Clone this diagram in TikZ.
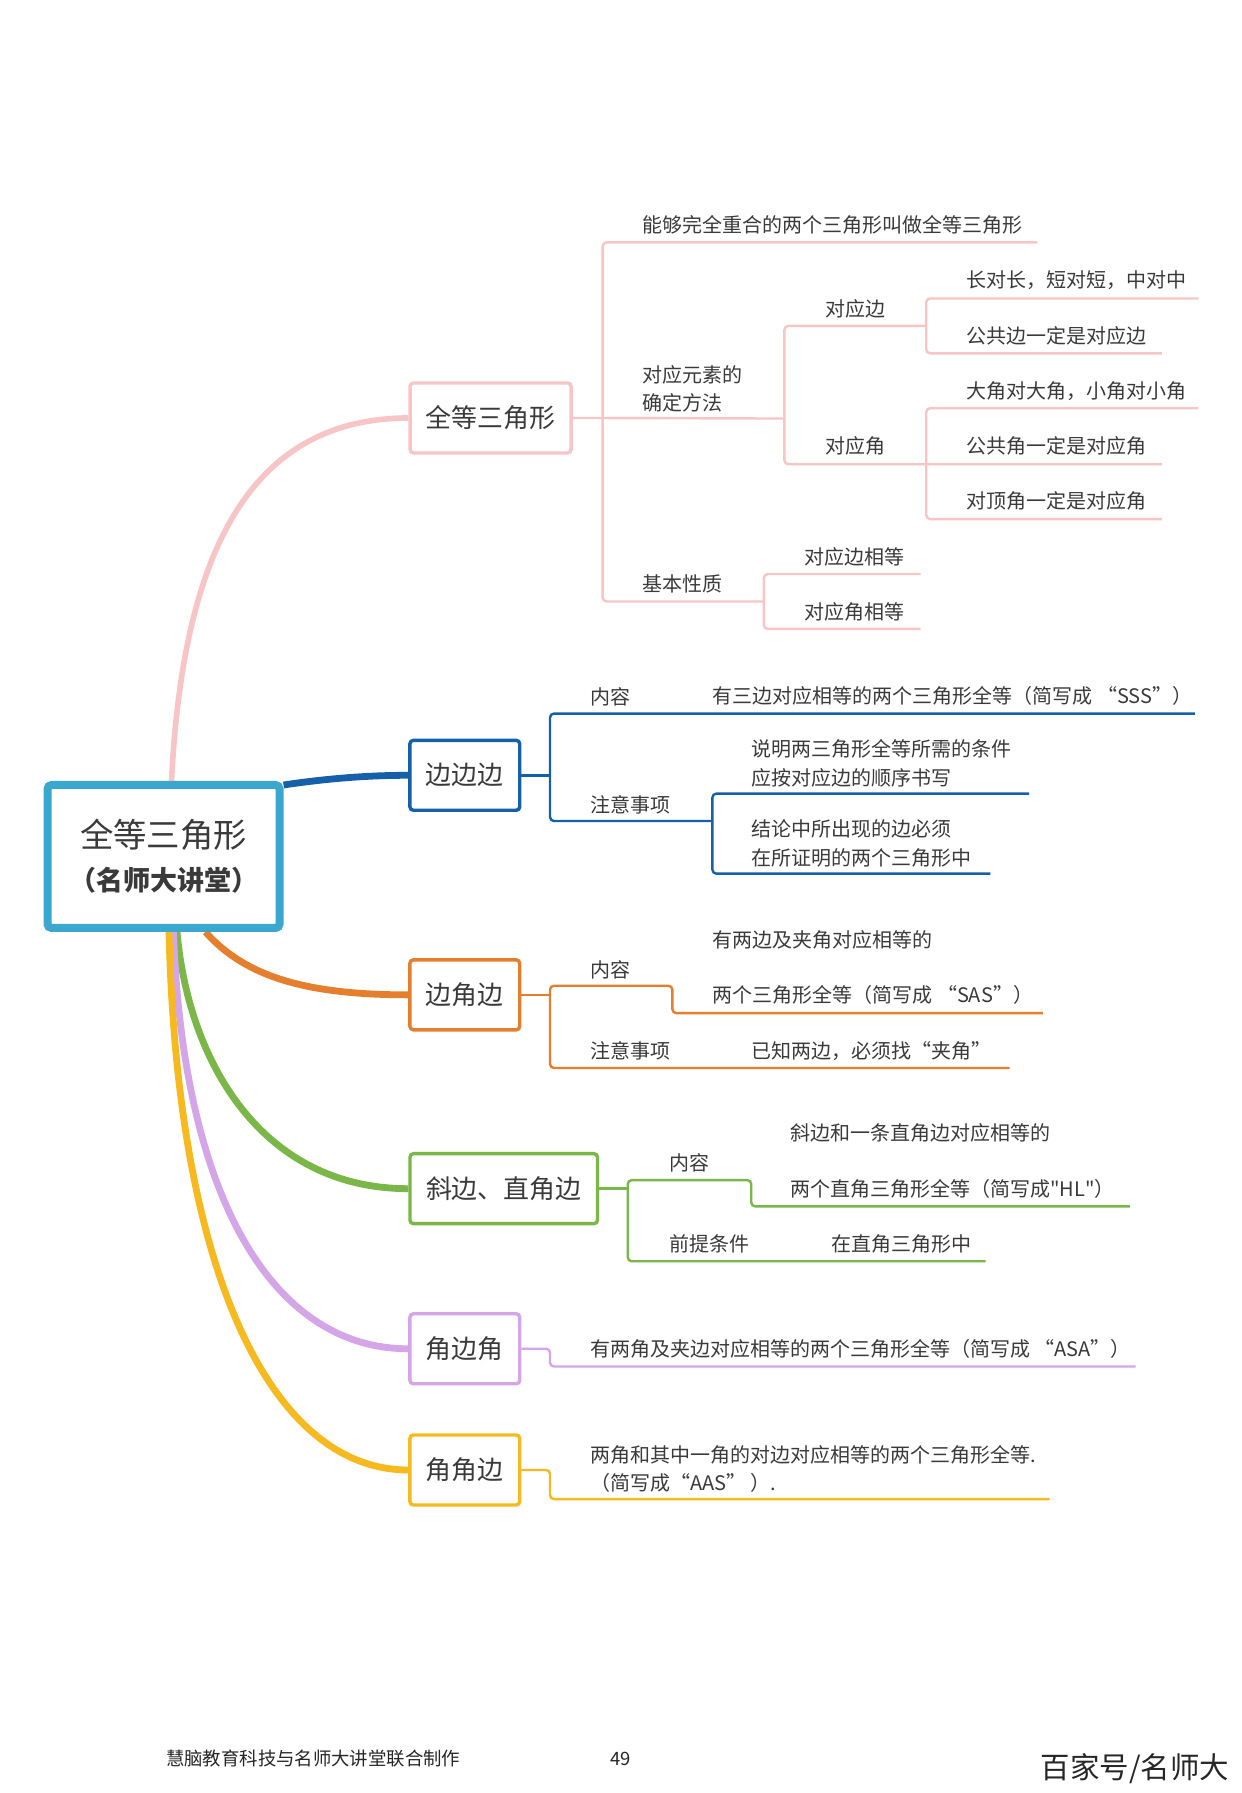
\documentclass[tikz,border=0pt]{standalone}
\usepackage{fontspec}
\setmainfont{Noto Sans CJK SC}
\newfontfamily\nomap{Noto Sans CJK SC}[Ligatures=TeXOff]
\usetikzlibrary{calc}
\pgfdeclarelayer{bg}
\pgfsetlayers{bg,main}
\definecolor{cPink}{HTML}{F7C5C5}
\definecolor{cBlue}{HTML}{1560A8}
\definecolor{cOrange}{HTML}{E57F2D}
\definecolor{cGreen}{HTML}{7AB648}
\definecolor{cPurple}{HTML}{D4A6E8}
\definecolor{cYellow}{HTML}{F6B920}
\definecolor{cCentral}{HTML}{3AA7CF}
\definecolor{cText}{HTML}{3A3A3A}
\begin{document}
\begin{tikzpicture}[x=1.1436pt,y=-1.1436pt,
  txt/.style={anchor=west,inner sep=0pt,text=cText,font=\fontsize{20pt}{28.6pt}\selectfont,align=left},
  topic/.style={draw=#1,line width=3.4pt,rounded corners=3.5pt,fill=white,text=cText,
    font=\fontsize{25.9pt}{30pt}\selectfont,minimum width=109.8pt,minimum height=70pt,inner sep=0pt},
  br/.style={draw=#1,line width=2.4pt,rounded corners=4pt},
  mainc/.style={draw=#1,line width=6.8pt}
]
\begin{pgfonlayer}{bg}
\fill[white] (0,0) rectangle (1086,1568);
\end{pgfonlayer}
\useasboundingbox (0,0) rectangle (1086,1568);

% central node
\node[draw=cCentral,line width=8pt,rounded corners=4pt,fill=white,minimum width=232pt,minimum height=143pt,inner sep=0pt] (central) at (143,749) {};
\node[inner sep=0pt,text=cText,font=\fontsize{33.4pt}{40pt}\selectfont] (ctitle) at (143,730) {全等三角形};
\node[inner sep=0pt,text=cText,font=\fontsize{27pt}{30pt}\selectfont\bfseries] (csub) at (143,770) {（名师大讲堂）};

% main topics
\node[topic=cPink,minimum width=161pt] (pinkT) at (429,365.5) {全等三角形};
\node[topic=cBlue] (sss) at (406.5,678) {边边边};
\node[topic=cOrange] (sas) at (406.5,870) {边角边};
\node[topic=cGreen,minimum width=187.5pt] (hl) at (440.5,1039.5) {斜边、直角边};
\node[topic=cPurple] (asa) at (406.5,1179.5) {角边角};
\node[topic=cYellow] (aas) at (406.5,1285.5) {角角边};

% main curves
\begin{pgfonlayer}{bg}
\draw[mainc=cPink,line width=5.6pt] ([xshift=8pt]central.north) .. controls (160,480) and (220,366) .. (pinkT.west);
\draw[mainc=cBlue] ([yshift=-4pt]central.north east) .. controls (285,681) and (320,678) .. (sss.west);
\draw[mainc=cOrange] ([xshift=42pt]central.south) .. controls (215,855) and (270,870) .. (sas.west);
\draw[mainc=cGreen] ([xshift=13.5pt]central.south) .. controls (165,930) and (230,1039.5) .. (hl.west);
\draw[mainc=cPurple] ([xshift=10pt]central.south) .. controls (160,1050) and (240,1179.5) .. (asa.west);
\draw[mainc=cYellow] ([xshift=5.5pt]central.south) .. controls (155,1120) and (240,1285.5) .. (aas.west);
\end{pgfonlayer}

% pink subtree
\draw[br=cPink] (pinkT.east) -- (686,366);
\draw[br=cPink] (907,212) -- (527,212) -- (527,526) -- (668,526);
\draw[br=cPink] (810,285) -- (686,285) -- (686,406) -- (1016,406);
\draw[br=cPink] (1048,261) -- (810,261) -- (810,309) -- (1016,309);
\draw[br=cPink] (1048,357) -- (810,357) -- (810,454) -- (1016,454);
\draw[br=cPink] (805,502) -- (668,502) -- (668,550) -- (805,550);
\node[txt] (p1) at (562,197) {能够完全重合的两个三角形叫做全等三角形};
\node[txt,font=\fontsize{20pt}{27.5pt}\selectfont] (p2) at (562,340) {对应元素的\\确定方法};
\node[txt] (p21) at (722,270) {对应边};
\node[txt] (p211) at (845,245) {长对长，短对短，中对中};
\node[txt] (p212) at (845,294) {公共边一定是对应边};
\node[txt] (p22) at (722,390) {对应角};
\node[txt] (p221) at (845,342) {大角对大角，小角对小角};
\node[txt] (p222) at (845,390) {公共角一定是对应角};
\node[txt] (p223) at (845,438) {对顶角一定是对应角};
\node[txt] (p3) at (562,511) {基本性质};
\node[txt] (p31) at (703,487) {对应边相等};
\node[txt] (p32) at (703,535) {对应角相等};

% blue subtree
\draw[br=cBlue] (sss.east) -- (481,678);
\draw[br=cBlue] (1045,624) -- (481,624) -- (481,718) -- (623,718);
\draw[br=cBlue] (900,694) -- (623,694) -- (623,764) -- (866,764);
\node[txt] (b1) at (516,609) {内容};
\node[txt] (b11) at (623,609) {有三边对应相等的两个三角形全等（简写成 “SSS”）};
\node[txt] (b2) at (516,704) {注意事项};
\node[txt] (b21) at (657,667.5) {说明两三角形全等所需的条件\\应按对应边的顺序书写};
\node[txt] (b22) at (657,737.5) {结论中所出现的边必须\\在所证明的两个三角形中};

% orange subtree
\draw[br=cOrange] (sas.east) -- (481,870);
\draw[br=cOrange] (912,886) -- (588,886) -- (588,862) -- (481,862) -- (481,934) -- (883,934);
\node[txt] (o1) at (516,848) {内容};
\node[txt,font=\fontsize{20pt}{55pt}\selectfont] (o11) at (623,846) {有两边及夹角对应相等的\\两个三角形全等（简写成 “SAS”）};
\node[txt] (o2) at (516,919) {注意事项};
\node[txt] (o21) at (657,919) {已知两边，必须找“夹角”};

% green subtree
\draw[br=cGreen] (hl.east) -- (549,1039.5);
\draw[br=cGreen] (988,1055) -- (657,1055) -- (657,1032) -- (549,1032) -- (549,1103) -- (862,1103);
\node[txt] (g1) at (585,1017) {内容};
\node[txt,font=\fontsize{20pt}{56pt}\selectfont] (g11) at (691,1015.5) {斜边和一条直角边对应相等的\\两个直角三角形全等（简写成{\nomap "}HL{\nomap "}）};
\node[txt] (g2) at (585,1088) {前提条件};
\node[txt] (g21) at (727,1088) {在直角三角形中};

% purple subtree
\draw[br=cPurple] (asa.east) -- (481,1179.5) -- (481,1195) -- (993,1195);
\node[txt] (pu1) at (516,1180) {有两角及夹边对应相等的两个三角形全等（简写成 “ASA”）};

% yellow subtree
\draw[br=cYellow] (aas.east) -- (481,1285.5) -- (481,1311) -- (918,1311);
\node[txt] (y1) at (516,1284.5) {两角和其中一角的对边对应相等的两个三角形全等.\\（简写成“AAS” ）.};

% footer
\node[anchor=west,inner sep=0pt,text=black!85,font=\fontsize{18.4pt}{22pt}\selectfont] (f1) at (145,1538) {慧脑教育科技与名师大讲堂联合制作};
\node[inner sep=0pt,text=black!85,font=\fontsize{18.4pt}{22pt}\selectfont] (f2) at (543,1538) {49};
\node[anchor=west,inner sep=0pt,text=black!85,font=\fontsize{29.5pt}{34pt}\selectfont] (f3) at (910,1547) {百家号/名师大};
\end{tikzpicture}
\end{document}
